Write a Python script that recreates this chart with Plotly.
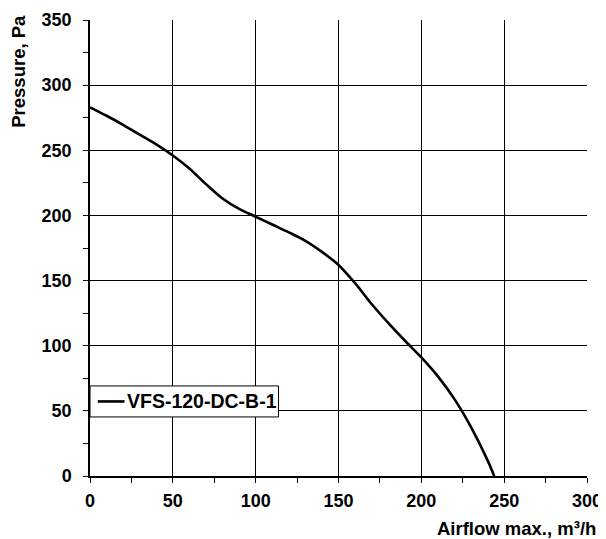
import plotly.graph_objects as go

airflow = [0, 10, 20, 30, 40, 50, 60, 70, 80, 90, 100, 110, 120, 130, 140,
           150, 160, 170, 180, 190, 200, 210, 220, 230, 240, 244]
pressure = [283, 276.5, 269.5, 262, 254.5, 246, 236, 224, 213, 205, 199, 193,
            187, 180.5, 172, 162, 148, 132, 117.5, 104, 91, 76.5, 59, 37.5, 12, 0]
series_name = "VFS-120-DC-B-1"
x_ticks = [0, 50, 100, 150, 200, 250, 300]
y_ticks = [0, 50, 100, 150, 200, 250, 300, 350]

FONT = "Liberation Sans, Arial, sans-serif"

fig = go.Figure()
fig.add_trace(go.Scatter(
    x=airflow, y=pressure, mode="lines", name=series_name,
    line=dict(color="black", width=2.6, shape="spline", smoothing=0.9),
    showlegend=False,
))

axis_common = dict(
    showgrid=True, gridcolor="black", gridwidth=1,
    showline=True, linecolor="black", linewidth=1.5,
    ticks="outside", ticklen=5, tickcolor="black", tickwidth=1,
    zeroline=False, mirror=False, automargin=False,
    tickfont=dict(family=FONT, size=18, color="black", weight="bold"),
    minor=dict(ticks="outside", ticklen=5, tickcolor="black", tickwidth=1,
               dtick=25, showgrid=False),
)

fig.update_xaxes(range=[0, 300], tickvals=x_ticks, ticklabelstandoff=3, **axis_common)
fig.update_yaxes(range=[0, 350], tickvals=y_ticks, ticklabelstandoff=8, **axis_common)

# legend box (drawn as a framed label in the lower-left corner of the plot)
leg_x0, leg_x1, leg_y0, leg_y1 = 0.0, 0.3793, 0.1295, 0.1975
leg_mid = (leg_y0 + leg_y1) / 2
fig.add_shape(type="rect", xref="paper", yref="paper",
              x0=leg_x0, x1=leg_x1, y0=leg_y0, y1=leg_y1,
              line=dict(color="black", width=1), fillcolor="white", layer="above")
fig.add_shape(type="line", xref="paper", yref="paper",
              x0=0.0157, x1=0.0695, y0=leg_mid, y1=leg_mid,
              line=dict(color="black", width=2.6), layer="above")

fig.update_layout(
    width=598, height=531,
    margin=dict(l=82, r=19, t=12, b=63, autoexpand=False),
    plot_bgcolor="white", paper_bgcolor="white",
    annotations=[
        dict(text="Pressure, Pa", xref="paper", yref="paper",
             x=-0.143, y=0.8885, xanchor="center", yanchor="middle",
             textangle=-90, showarrow=False,
             font=dict(family=FONT, size=18.5, color="black", weight="bold")),
        dict(text="Airflow max., m³/h", xref="paper", yref="paper",
             x=1.022, y=-0.116, xanchor="right", yanchor="middle",
             showarrow=False,
             font=dict(family=FONT, size=18.5, color="black", weight="bold")),
        dict(text=series_name, xref="paper", yref="paper",
             x=0.0695, y=leg_mid, xanchor="left", yanchor="middle",
             showarrow=False,
             font=dict(family=FONT, size=19.5, color="black", weight="bold")),
    ],
)

fig.write_html("out.html")
